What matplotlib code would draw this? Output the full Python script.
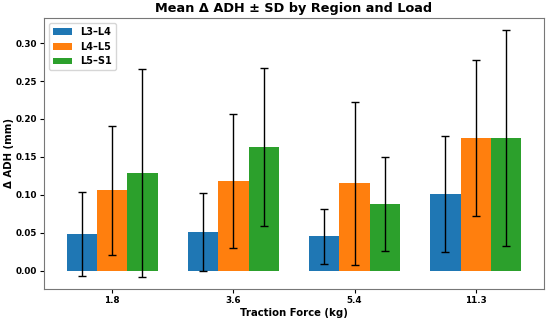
import matplotlib
matplotlib.use('Agg')
import matplotlib.pyplot as plt
import numpy as np

# %%
# Data

loads = ['1.8', '3.6', '5.4', '11.3']
regions = ['L3–L4', 'L4–L5', 'L5–S1']

mean_l3l4 = [0.048, 0.051, 0.045, 0.101]
mean_l4l5 = [0.106, 0.118, 0.115, 0.175]
mean_l5s1 = [0.129, 0.163, 0.088, 0.175]

sd_l3l4 = [0.055, 0.051, 0.036, 0.077]
sd_l4l5 = [0.085, 0.088, 0.108, 0.103]
sd_l5s1 = [0.137, 0.104, 0.062, 0.142]

colors = ['tab:blue', 'tab:orange', 'tab:green']

# %%

plt.rcParams['font.weight'] = 'bold'
plt.rcParams['axes.labelweight'] = 'bold'
plt.rcParams['axes.titleweight'] = 'bold'

fig, ax = plt.subplots(figsize=(5.5, 3.2), dpi=100)

x = np.arange(len(loads))
width = 0.25
means = [mean_l3l4, mean_l4l5, mean_l5s1]
sds = [sd_l3l4, sd_l4l5, sd_l5s1]

for i, (m, s) in enumerate(zip(means, sds)):
    ax.bar(x + (i - 1) * width, m, width, yerr=s, capsize=3,
           color=colors[i], label=regions[i],
           error_kw=dict(ecolor='black', elinewidth=1, capthick=1))

ax.set_xticks(x)
ax.set_xticklabels(loads, fontsize=6.3)
ax.tick_params(axis='y', labelsize=6.3)
ax.tick_params(length=3, pad=2)

ax.set_xlabel('Traction Force (kg)', fontsize=7.3, labelpad=2)
ax.set_ylabel('Δ ADH (mm)', fontsize=7.3, labelpad=1)
ax.set_title('Mean Δ ADH ± SD by Region and Load', fontsize=9.3, pad=4)

for sp in ax.spines.values():
    sp.set_color('#777777')

ax.legend(loc='upper left', fontsize=7)

fig.subplots_adjust(left=0.08, right=0.989, top=0.944, bottom=0.097)
fig.savefig('out.png')
